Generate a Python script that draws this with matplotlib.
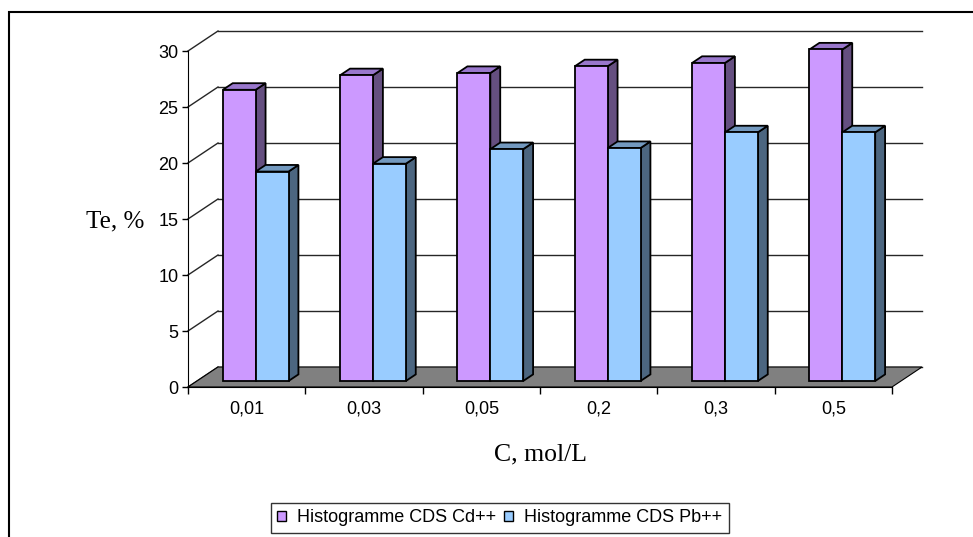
import matplotlib
matplotlib.use('Agg')
import matplotlib.pyplot as plt
from matplotlib.patches import Polygon, Rectangle, Patch

plt.rcParams['font.family'] = ['Liberation Sans', 'DejaVu Sans']

# 数据
categories = ['0,01', '0,03', '0,05', '0,2', '0,3', '0,5']
cd_values = [26.0, 27.3, 27.5, 28.1, 28.4, 29.6]
pb_values = [18.7, 19.4, 20.7, 20.8, 22.2, 22.2]
series_names = ['Histogramme CDS Cd++', 'Histogramme CDS Pb++']
y_ticks = [0, 5, 10, 15, 20, 25, 30]

# 颜色: 正面, 顶面, 侧面
cd_colors = ('#CC99FF', '#9977CC', '#654F80')
pb_colors = ('#99CCFF', '#7399BF', '#4C6680')

W, H = 973, 537
fig = plt.figure(figsize=(W / 100, H / 100), dpi=100)

# 前平面区域 (像素)
left_px, right_px, bottom_px, top_px = 188, 892, 387, 51
ax = fig.add_axes([left_px / W, 1 - bottom_px / H,
                   (right_px - left_px) / W, (bottom_px - top_px) / H])
n = len(categories)
ax.set_xlim(0, n)
ax.set_ylim(0, 30)

# 深度偏移 (数据单位)
DX = 30 / ((right_px - left_px) / n)
DY = 20 / ((bottom_px - top_px) / 30)

# 网格线 (后墙 + 左墙斜线)
for v in y_ticks:
    ax.plot([DX, n + DX], [v + DY, v + DY], color='#262626', lw=1,
            clip_on=False, zorder=1)
    ax.plot([0, DX], [v, v + DY], color='#262626', lw=1,
            clip_on=False, zorder=1)

# 底面
ax.add_patch(Polygon([(0, 0), (n, 0), (n + DX, DY), (DX, DY)],
                     closed=True, facecolor='#808080', edgecolor='black',
                     lw=0.8, clip_on=False, zorder=2))

# 三维柱子
bar_w = 0.28
z0, z1 = 0.3, 0.63


def bar3d(x0, x1, v, colors):
    front, top, side = colors
    ox0, oy0 = z0 * DX, z0 * DY
    ox1, oy1 = z1 * DX, z1 * DY
    kw = dict(closed=True, edgecolor='black', lw=1.3, clip_on=False,
              joinstyle='miter', zorder=3)
    ax.add_patch(Polygon([(x1 + ox0, oy0), (x1 + ox0, v + oy0),
                          (x1 + ox1, v + oy1), (x1 + ox1, oy1)],
                         facecolor=side, **kw))
    ax.add_patch(Polygon([(x0 + ox0, v + oy0), (x1 + ox0, v + oy0),
                          (x1 + ox1, v + oy1), (x0 + ox1, v + oy1)],
                         facecolor=top, **kw))
    ax.add_patch(Polygon([(x0 + ox0, oy0), (x1 + ox0, oy0),
                          (x1 + ox0, v + oy0), (x0 + ox0, v + oy0)],
                         facecolor=front, **kw))


for i in range(n):
    start = i + 0.5 - bar_w
    bar3d(start, start + bar_w, cd_values[i], cd_colors)
    bar3d(start + bar_w, start + 2 * bar_w, pb_values[i], pb_colors)

# 坐标轴
for s in ['top', 'right']:
    ax.spines[s].set_visible(False)
ax.patch.set_visible(False)
ax.spines['left'].set_zorder(4)
ax.spines['bottom'].set_zorder(4)
ax.set_yticks(y_ticks)
ax.tick_params(axis='y', direction='out', length=4, width=1, pad=3,
               labelsize=13)
ax.set_xticks(range(n + 1))
ax.set_xticklabels([])
ax.set_xticks([i + 0.5 for i in range(n)], minor=True)
ax.set_xticklabels(categories, minor=True)
ax.tick_params(axis='x', which='major', direction='out', length=5, width=1)
ax.tick_params(axis='x', which='minor', length=0, pad=10, labelsize=13)

fig.text(115 / W, 1 - 221 / H, 'Te, %', family='Liberation Serif',
         fontsize=18, ha='center', va='center')
fig.text(540 / W, 1 - 454 / H, 'C, mol/L', family='Liberation Serif',
         fontsize=18.5, ha='center', va='center')

# 图例
handles = [Patch(facecolor=cd_colors[0], edgecolor='black', lw=1),
           Patch(facecolor=pb_colors[0], edgecolor='black', lw=1)]
leg = fig.legend(handles, series_names, loc='upper left',
                 bbox_to_anchor=(271 / W, 1 - 503 / H), ncol=2,
                 fontsize=13, frameon=True, fancybox=False,
                 handlelength=0.5, handleheight=0.5, handletextpad=0.6,
                 columnspacing=0.45, borderpad=0.35, borderaxespad=0)
leg.get_frame().set_edgecolor('black')
leg.get_frame().set_linewidth(1)

# 外框
fig.patches.append(Rectangle((9 / W, -0.1), 1.0, 1 - 12 / H + 0.1,
                             transform=fig.transFigure, fill=False,
                             edgecolor='black', lw=1.5))

fig.savefig('out.png', dpi=100)
